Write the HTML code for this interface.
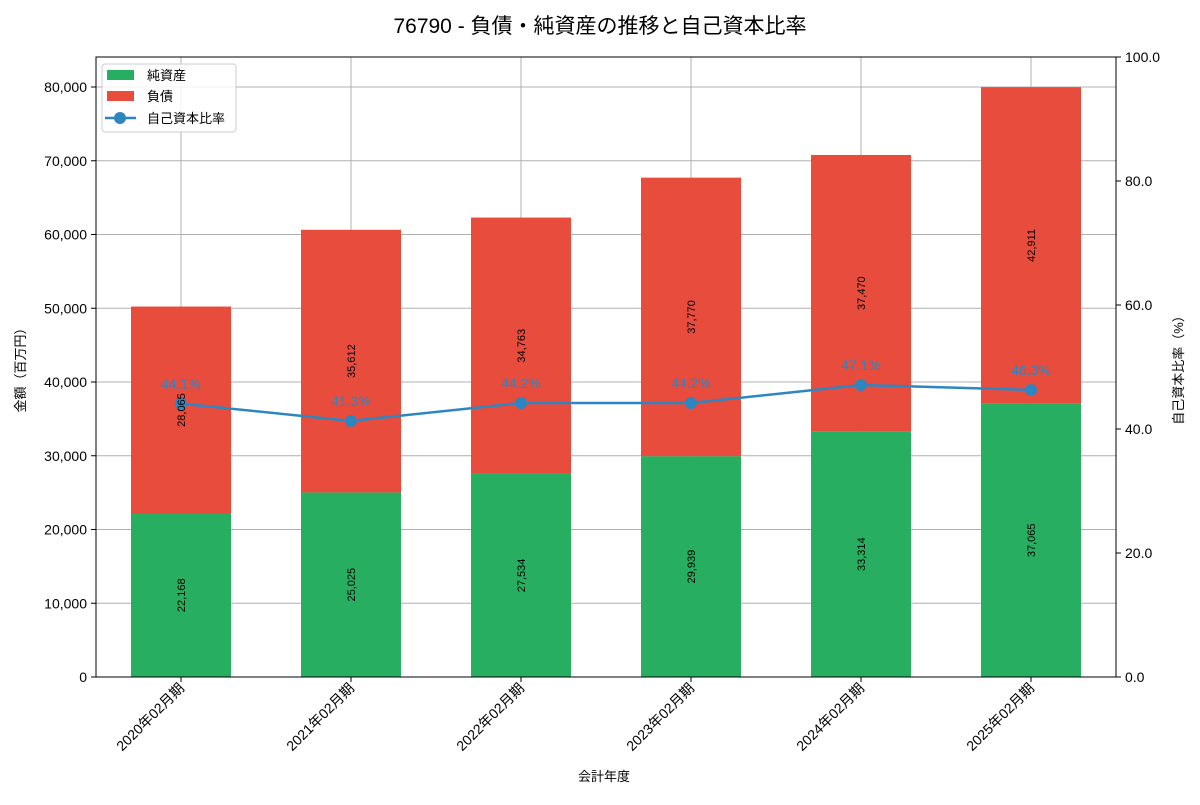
<!DOCTYPE html>
<html><head><meta charset="utf-8"><style>
body{margin:0;background:#fff}
svg text{font-family:"Liberation Sans","Noto Sans CJK JP",sans-serif}
</style></head><body>
<svg id="chart" width="1200" height="800" xmlns="http://www.w3.org/2000/svg">
<text x="600" y="33" font-size="21" text-anchor="middle">76790 - 負債・純資産の推移と自己資本比率</text>
<g id="grid"></g><g id="bars"></g><g id="line"></g><g id="labels"></g>
<rect x="96" y="57" width="1020" height="620" fill="none" stroke="#000" stroke-width="1"/>
<g id="axes"></g>
<text transform="translate(25,367) rotate(-90)" font-size="13" text-anchor="middle">金額（百万円）</text>
<text transform="translate(1183,367) rotate(-90)" font-size="13" text-anchor="middle">自己資本比率（%）</text>
<text x="604" y="781" font-size="13" text-anchor="middle">会計年度</text>
<g>
<rect x="102" y="64" width="134" height="68" fill="#fff" fill-opacity="0.85" stroke="#ccc" rx="3"/>
<rect x="107" y="70" width="27" height="10" fill="#27ae60"/><text x="147" y="80" font-size="13">純資産</text>
<rect x="107" y="91" width="27" height="10" fill="#e74c3c"/><text x="147" y="101" font-size="13">負債</text>
<line x1="105" y1="118" x2="136" y2="118" stroke="#2e86c1" stroke-width="2.5"/><circle cx="120" cy="118" r="6" fill="#2e86c1"/><text x="147" y="123" font-size="13">自己資本比率</text>
</g>
</svg>
<script>
const categories=["2020年02月期","2021年02月期","2022年02月期","2023年02月期","2024年02月期","2025年02月期"];
const equity=[22168,25025,27534,29939,33314,37065];
const liabilities=[28065,35612,34763,37770,37470,42911];
const ratio=[44.1,41.3,44.2,44.2,47.1,46.3];
const yTicks=[0,10000,20000,30000,40000,50000,60000,70000,80000];
const y2Ticks=[0,20,40,60,80,100];
const NS="http://www.w3.org/2000/svg";
const L=96,R=1116,T=57,B=677,YMAX=84068;
const y=v=>B-v/YMAX*(B-T);
const y2=v=>B-v/100*(B-T);
const step=(R-L)/categories.length;
const x=i=>L+step*(i+0.5);
const bw=100;
function mk(p,tag,a,txt){const e=document.createElementNS(NS,tag);for(const k in a)e.setAttribute(k,a[k]);if(txt!==undefined)e.textContent=txt;document.getElementById(p).appendChild(e);return e;}
const fmt=v=>v.toLocaleString('en-US');
yTicks.forEach(t=>{
 let g=mk('grid','line',{x1:L,x2:R,y1:y(t),y2:y(t),stroke:'#b0b0b0','stroke-width':1});
 
 mk('axes','line',{x1:L-5,x2:L,y1:y(t),y2:y(t),stroke:'#000'});
 let tl=mk('axes','text',{x:L-9,y:y(t)+5,'font-size':14,'text-anchor':'end'},fmt(t));
 
});
y2Ticks.forEach(t=>{
 mk('axes','line',{x1:R,x2:R+5,y1:y2(t),y2:y2(t),stroke:'#000'});
 let tl=mk('axes','text',{x:R+9,y:y2(t)+5,'font-size':14},t.toFixed(1));
 
});
categories.forEach((c,i)=>{
 const cx=x(i);
 let g=mk('grid','line',{x1:cx,x2:cx,y1:T,y2:B,stroke:'#b0b0b0','stroke-width':1});
 
 let b1=mk('bars','rect',{x:cx-bw/2,y:y(equity[i]),width:bw,height:B-y(equity[i]),fill:'#27ae60'});
 
 const tot=equity[i]+liabilities[i];
 let b2=mk('bars','rect',{x:cx-bw/2,y:y(tot),width:bw,height:y(equity[i])-y(tot),fill:'#e74c3c'});
 
 let m1=(y(0)+y(equity[i]))/2, m2=(y(equity[i])+y(tot))/2;
 let l1=mk('labels','text',{transform:`translate(${cx+4},${m1}) rotate(-90)`,'font-size':11,'text-anchor':'middle'},fmt(equity[i]));
 
 let l2=mk('labels','text',{transform:`translate(${cx+4},${m2}) rotate(-90)`,'font-size':11,'text-anchor':'middle'},fmt(liabilities[i]));
 
 mk('axes','line',{x1:cx,x2:cx,y1:B,y2:B+5,stroke:'#000'});
 let xl=mk('axes','text',{transform:`translate(${cx+4},${B+12}) rotate(-45)`,'font-size':14,'text-anchor':'end'},c);
 
});
let pts=ratio.map((r,i)=>x(i)+','+y2(r)).join(' ');
let pl=mk('line','polyline',{points:pts,fill:'none',stroke:'#2e86c1','stroke-width':2.5});

ratio.forEach((r,i)=>{
 let c=mk('line','circle',{cx:x(i),cy:y2(r),r:6,fill:'#2e86c1'});
 
 let t=mk('labels','text',{x:x(i),y:y2(r)-15,'font-size':14,'text-anchor':'middle',fill:'#2e86c1'},r.toFixed(1)+'%');
 
});
</script>
</body></html>
